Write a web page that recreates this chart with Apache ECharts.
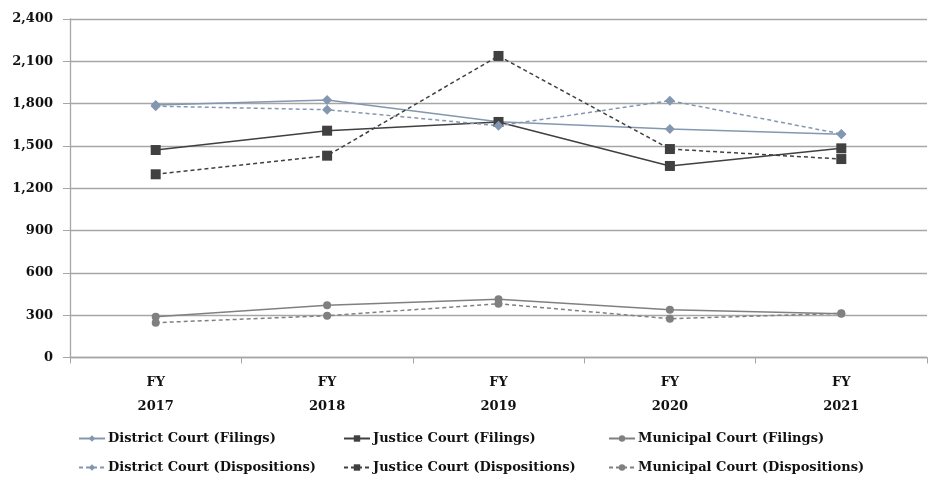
<!DOCTYPE html>
<html><head><meta charset="utf-8">
<script src="https://cdn.jsdelivr.net/npm/echarts@6/dist/echarts.min.js"></script>
<style>html,body{margin:0;padding:0;background:#fff}#c{width:934px;height:478px}</style>
</head><body><div id="c"></div>
<script>
const categories = ['FY\n2017','FY\n2018','FY\n2019','FY\n2020','FY\n2021'];
const districtFilings = [1790, 1826, 1672, 1620, 1582];
const districtDispositions = [1782, 1757, 1643, 1821, 1585];
const justiceFilings = [1471, 1608, 1670, 1358, 1483];
const justiceDispositions = [1299, 1431, 2138, 1478, 1407];
const municipalFilings = [289, 370, 413, 339, 311];
const municipalDispositions = [247, 296, 381, 275, 313];
const yTicks = [0, 300, 600, 900, 1200, 1500, 1800, 2100, 2400];
const seriesNames = ['District Court (Filings)','Justice Court (Filings)','Municipal Court (Filings)',
  'District Court (Dispositions)','Justice Court (Dispositions)','Municipal Court (Dispositions)'];

const FONT = '"DejaVu Serif", "Liberation Serif", serif';
const C_D = '#8497b0', C_J = '#404040', C_M = '#808080';
function s(name, data, color, dashed, symbol, size) {
  return {name, type:'line', data, symbol, symbolSize:size, showSymbol:true,
    lineStyle:{color, width:1.5, type: dashed ? [4,3] : 'solid'},
    itemStyle:{color}, emphasis:{disabled:true}, z: 3};
}
const chart = echarts.init(document.getElementById('c'));
const legendLefts = [78, 343, 608];
const legendTops = [432, 461];
const legends = seriesNames.map((n, i) => ({
  left: legendLefts[i % 3], top: legendTops[Math.floor(i / 3)], orient:'horizontal', padding:0,
  data:[n], itemWidth:26, itemHeight:8, selectedMode:false,
  textStyle:{fontFamily:FONT, fontWeight:'bold', fontSize:13, color:'#111', padding:[0,0,0,-2]}
}));
chart.setOption({
  animation:false,
  grid:{left:70, right:7, top:19, bottom:120.5},
  legend: legends,
  xAxis:{type:'category', data:categories, boundaryGap:true,
    axisLine:{lineStyle:{color:'#a6a6a6', width:1.3}},
    axisTick:{show:true, length:6, inside:false, alignWithLabel:false, lineStyle:{color:'#a6a6a6'}},
    axisLabel:{fontFamily:FONT, fontWeight:'bold', fontSize:13, color:'#111', lineHeight:24, margin:13}},
  yAxis:{type:'value', min:yTicks[0], max:yTicks[yTicks.length-1], interval:300,
    axisLine:{show:true, lineStyle:{color:'#a6a6a6', width:1.3}},
    axisTick:{show:true, length:7, lineStyle:{color:'#a6a6a6'}},
    splitLine:{lineStyle:{color:'#a6a6a6', width:1.3}},
    axisLabel:{fontFamily:FONT, fontWeight:'bold', fontSize:13, color:'#111', margin:17,
      formatter:v=>v.toLocaleString('en-US')}},
  series:[
    s(seriesNames[0], districtFilings, C_D, false, 'diamond', 10),
    s(seriesNames[1], justiceFilings, C_J, false, 'rect', 10),
    s(seriesNames[2], municipalFilings, C_M, false, 'circle', 8),
    s(seriesNames[3], districtDispositions, C_D, true, 'diamond', 10),
    s(seriesNames[4], justiceDispositions, C_J, true, 'rect', 10),
    s(seriesNames[5], municipalDispositions, C_M, true, 'circle', 8)
  ]
});
</script></body></html>
